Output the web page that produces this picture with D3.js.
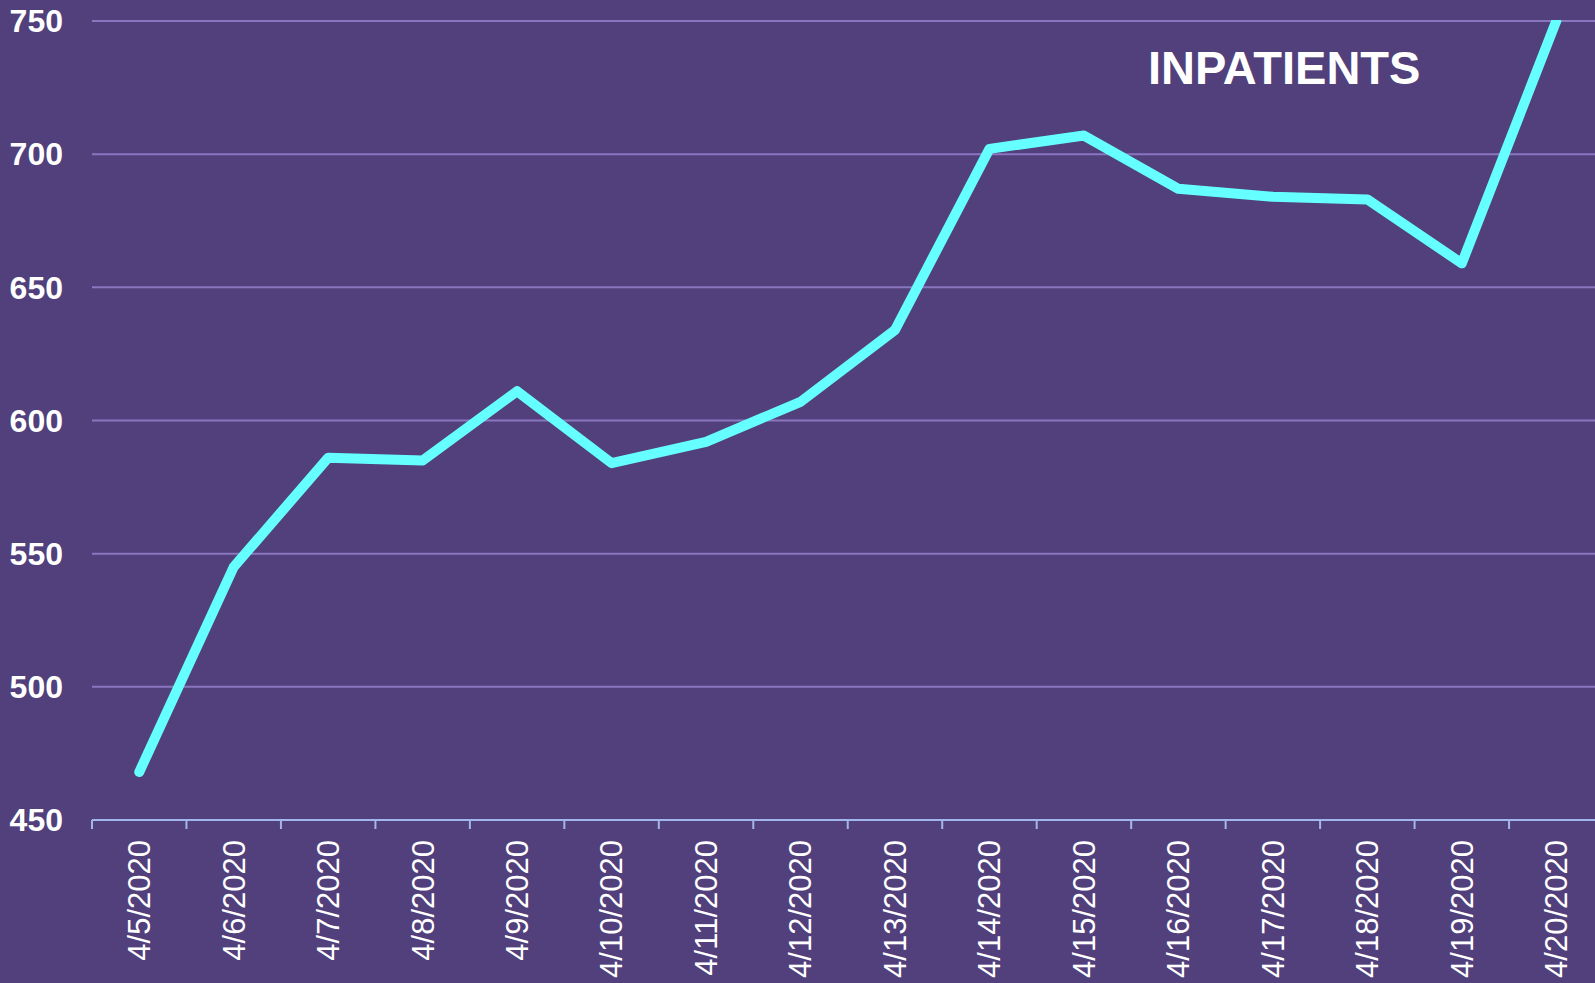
<!DOCTYPE html>
<html>
<head>
<meta charset="utf-8">
<script src="https://cdn.jsdelivr.net/npm/d3@7"></script>
<style>
  html, body { margin: 0; padding: 0; background: #51407c; overflow: hidden; }
  svg { display: block; }
</style>
</head>
<body>
<svg id="chart" width="1595" height="983"></svg>
<script>
const categories = ["4/5/2020","4/6/2020","4/7/2020","4/8/2020","4/9/2020","4/10/2020","4/11/2020","4/12/2020","4/13/2020","4/14/2020","4/15/2020","4/16/2020","4/17/2020","4/18/2020","4/19/2020","4/20/2020"];
const inpatients = [468, 545, 586, 585, 611, 584, 592, 607, 634, 702, 707, 687, 684, 683, 659, 750];
const yTicks = [450, 500, 550, 600, 650, 700, 750];
const title = "INPATIENTS";

(function () {
const W = 1595, H = 983;
const mLeft = 92, mTop = 21, mBottom = 820, bandW = 94.47;
const svg = d3.select("#chart");
svg.append("rect").attr("width", W).attr("height", H).attr("fill", "#51407c");

const x = d3.scaleBand().domain(categories).range([mLeft, mLeft + bandW * categories.length]).padding(0);
const y = d3.scaleLinear().domain([450, 750]).range([mBottom, mTop]);

// gridlines
svg.append("g").selectAll("line").data(yTicks.filter(d => d > 450)).join("line")
  .attr("x1", mLeft).attr("x2", W)
  .attr("y1", d => y(d)).attr("y2", d => y(d))
  .attr("stroke", "#8a76bf").attr("stroke-width", 2);

// y labels
svg.append("g").selectAll("text").data(yTicks).join("text")
  .attr("x", 63).attr("y", d => y(d)).attr("dy", "0.35em")
  .attr("text-anchor", "end")
  .attr("fill", "#ffffff")
  .attr("font-family", "'Liberation Sans', Arial, sans-serif")
  .attr("font-weight", "bold").attr("font-size", 32)
  .text(d => d);

// x axis line & ticks
const ax = svg.append("g");
ax.append("line").attr("x1", mLeft).attr("x2", W).attr("y1", mBottom).attr("y2", mBottom)
  .attr("stroke", "#a3b6ec").attr("stroke-width", 2);
const bounds = categories.map(c => x(c)).concat([x(categories[categories.length-1]) + x.bandwidth()]);
ax.selectAll("line.tick").data(bounds).join("line").attr("class", "tick")
  .attr("x1", d => d).attr("x2", d => d).attr("y1", mBottom).attr("y2", mBottom + 9)
  .attr("stroke", "#a3b6ec").attr("stroke-width", 2);

// x labels
svg.append("g").selectAll("text").data(categories).join("text")
  .attr("transform", d => `translate(${x(d) + x.bandwidth()/2},${mBottom + 20}) rotate(-90)`)
  .attr("dy", "0.35em")
  .attr("text-anchor", "end")
  .attr("fill", "#ffffff")
  .attr("font-family", "'Liberation Sans', Arial, sans-serif")
  .attr("font-size", 31)
  .text(d => d);

// clip
svg.append("clipPath").attr("id", "clip").append("rect")
  .attr("x", 0).attr("y", mTop - 1).attr("width", W).attr("height", H);

const line = d3.line().x((d, i) => x(categories[i]) + x.bandwidth()/2).y(d => y(d));
svg.append("path").datum(inpatients)
  .attr("clip-path", "url(#clip)")
  .attr("d", line)
  .attr("fill", "none").attr("stroke", "#66ffff").attr("stroke-width", 10)
  .attr("stroke-linecap", "round").attr("stroke-linejoin", "round");

svg.append("text").attr("x", 1148).attr("y", 84)
  .attr("fill", "#ffffff")
  .attr("font-family", "'Liberation Sans', Arial, sans-serif")
  .attr("font-weight", "bold").attr("font-size", 47)
  .text(title);
})();
</script>
</body>
</html>
